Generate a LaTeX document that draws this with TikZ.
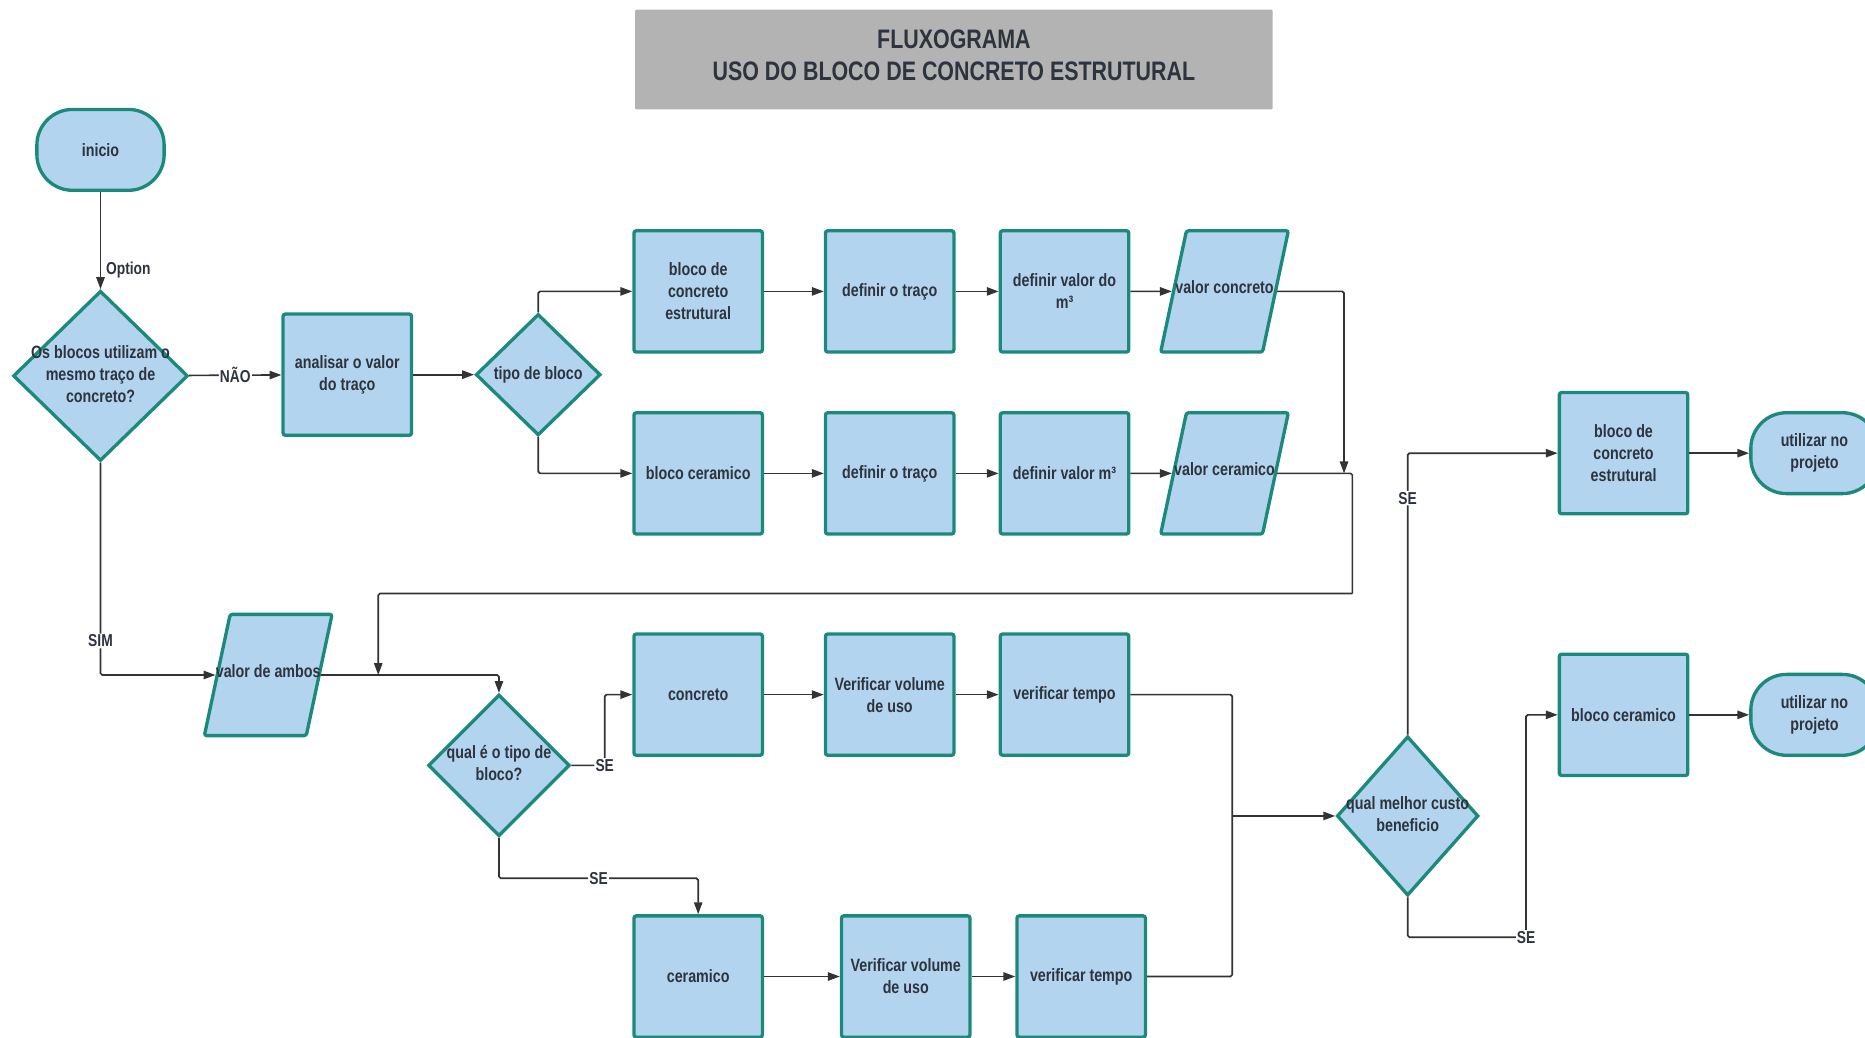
\documentclass[tikz,border=0pt]{standalone}
\usepackage{fontspec}
\setmainfont{Liberation Sans}[FakeStretch=0.8]
\usetikzlibrary{shapes.geometric, arrows.meta, calc, positioning}

\definecolor{boxFill}{RGB}{178,212,238}
\definecolor{boxEdge}{RGB}{28,138,122}
\definecolor{inkGray}{RGB}{46,52,62}
\definecolor{lineGray}{RGB}{51,51,51}
\definecolor{titleGray}{RGB}{179,179,179}

\newcommand{\nodeFont}{\bfseries\fontsize{15}{18.5}\selectfont}
\newcommand{\edgeFont}{\bfseries\fontsize{14.5}{16}\selectfont}
\newcommand{\shapetext}[1]{\makebox[0pt]{\begin{tabular}{@{}c@{}}#1\end{tabular}}}

\begin{document}
\begin{tikzpicture}[x=1pt, y=-1pt, >={Triangle[length=10pt, width=7pt]}]

% --- Styles ---
\tikzset{
    procBox/.style={rectangle, fill=boxFill, draw=boxEdge, line width=2.8pt, rounded corners=2pt,
        minimum width=108pt, minimum height=102pt, align=center, text=inkGray, font=\nodeFont},
    termShape/.style={procBox, rounded corners=30pt, minimum width=107pt, minimum height=68pt},
    decision/.style={diamond, fill=boxFill, draw=boxEdge, line width=2.8pt, inner sep=0pt,
        text=inkGray, font=\nodeFont},
    % parallelogram: the text box fixes the body, the angles add the slant
    ioShape/.style={trapezium, trapezium left angle=78, trapezium right angle=102, trapezium stretches=false,
        fill=boxFill, draw=boxEdge, line width=2.8pt, rounded corners=2pt, inner ysep=0pt, inner xsep=32pt,
        text height=53pt, text depth=49pt, text=inkGray, font=\nodeFont},
    flowLine/.style={draw=lineGray, line width=1.4pt, rounded corners=1.5pt},
    flowArrow/.style={flowLine, ->},
    edgeText/.style={fill=white, inner sep=1pt, text=inkGray, font=\edgeFont},
}

% --- Page ---
\fill[white] (0,0) rectangle (1568,872);
\useasboundingbox (0,0) rectangle (1568,872);
\clip (0,0) rectangle (1568,872);

% --- Title ---
\node[fill=titleGray, rounded corners=1pt, minimum width=536pt, minimum height=84pt, align=center,
    text depth=7pt, text=inkGray, font=\bfseries\fontsize{22.5}{27}\selectfont] (titulo) at (802,50)
    {FLUXOGRAMA\\USO DO BLOCO DE CONCRETO ESTRUTURAL};

% --- Start and first question ---
\node[termShape] (inicio) at (84.5,126) {inicio};
\node[decision, minimum width=147pt, minimum height=143pt] (qMesmo) at (84.5,316)
    {\shapetext{Os blocos utilizam o\\mesmo traço de\\concreto?}};
\node[procBox] (analisar) at (292,315) {analisar o valor\\do traço};
\node[decision, minimum width=105pt, minimum height=102pt] (qTipo) at (452.5,315)
    {\shapetext{tipo de bloco}};

% --- Rows of the "NAO" branch ---
\node[procBox] (blocoConc) at (587,245) {bloco de\\concreto\\estrutural};
\node[procBox] (tracoConc) at (748,245) {definir o traço};
\node[procBox] (m3Conc) at (895,245) {definir valor do\\m³};
\node[ioShape] (valConc) at (1029.5,245) {\shapetext{valor concreto}};

\node[procBox] (blocoCer) at (587,398) {bloco ceramico};
\node[procBox] (tracoCer) at (748,398) {definir o traço};
\node[procBox] (m3Cer) at (895,398) {definir valor m³};
\node[ioShape] (valCer) at (1029.5,398) {\shapetext{valor ceramico}};

% --- "SIM" branch ---
\node[ioShape] (valAmbos) at (225.5,567.5) {\shapetext{valor de ambos}};
\node[decision, minimum width=119pt, minimum height=119pt] (qQual) at (419.5,643.5)
    {\shapetext{qual é o tipo de\\bloco?}};

\node[procBox] (concreto) at (587,584) {concreto};
\node[procBox] (volConc) at (748,584) {Verificar volume\\de uso};
\node[procBox] (tempoConc) at (895,584) {verificar tempo};

\node[procBox] (ceramico) at (587,821) {ceramico};
\node[procBox] (volCer) at (761.5,821) {Verificar volume\\de uso};
\node[procBox] (tempoCer) at (909,821) {verificar tempo};

% --- Final choice ---
\node[decision, minimum width=119pt, minimum height=134pt] (qCusto) at (1183.5,686)
    {\shapetext{qual melhor custo\\beneficio}};
\node[procBox] (fimConc) at (1365,381) {bloco de\\concreto\\estrutural};
\node[procBox] (fimCer) at (1365,601) {bloco ceramico};
\node[termShape] (usoConc) at (1525.5,381) {utilizar no\\projeto};
\node[termShape] (usoCer) at (1525.5,601) {utilizar no\\projeto};

% --- Junction points ---
\coordinate (joinVal) at (1130,398);
\coordinate (loopCorner) at (1137,499);
\coordinate (joinAmbos) at (318,567.5);
\coordinate (merge) at (1036,686);
\coordinate (seCusto) at (1283,788);

% --- Connectors ---
\draw[flowArrow] (inicio) -- node[pos=0.8, right, xshift=3pt, edgeText, fill=none] {Option} (qMesmo);
\draw[flowArrow] (qMesmo) -- node[pos=0.5, edgeText] {NÃO} (analisar);
\draw[flowArrow] (analisar) -- (qTipo);
\draw[flowArrow] (qTipo.north) |- (blocoConc.west);
\draw[flowArrow] (qTipo.south) |- (blocoCer.west);

\draw[flowArrow] (blocoConc) -- (tracoConc);
\draw[flowArrow] (tracoConc) -- (m3Conc);
\draw[flowArrow] (m3Conc) -- (valConc);
\draw[flowArrow] (blocoCer) -- (tracoCer);
\draw[flowArrow] (tracoCer) -- (m3Cer);
\draw[flowArrow] (m3Cer) -- (valCer);

\draw[flowArrow] (valConc.east) -| (joinVal);
\draw[flowLine] (valCer.east) -| (loopCorner);
\draw[flowArrow] (loopCorner) -| (joinAmbos);

\draw[flowArrow] (qMesmo.south) |- node[pos=0.42, edgeText] {SIM} (valAmbos.west);
\draw[flowArrow] (valAmbos.east) -| (qQual.north);
\draw[flowArrow] (qQual.east) -- ++(28,0) node[edgeText] {SE} |- (concreto.west);
\draw[flowArrow] (qQual.south) -- ++(0,34) -| node[pos=0.25, edgeText] {SE} (ceramico.north);

\draw[flowArrow] (concreto) -- (volConc);
\draw[flowArrow] (volConc) -- (tempoConc);
\draw[flowArrow] (ceramico) -- (volCer);
\draw[flowArrow] (volCer) -- (tempoCer);

\draw[flowLine] (tempoConc.east) -| (merge) |- (tempoCer.east);
\draw[flowArrow] (merge) -- (qCusto.west);

\draw[flowArrow] (qCusto.north) |- node[pos=0.42, edgeText] {SE} (fimConc.west);
\draw[flowLine] (qCusto.south) |- (seCusto);
\draw[flowArrow] (seCusto) |- (fimCer.west);
\node[edgeText] (seLabel) at (seCusto) {SE};
\draw[flowArrow] (fimConc) -- (usoConc);
\draw[flowArrow] (fimCer) -- (usoCer);

\end{tikzpicture}
\end{document}
